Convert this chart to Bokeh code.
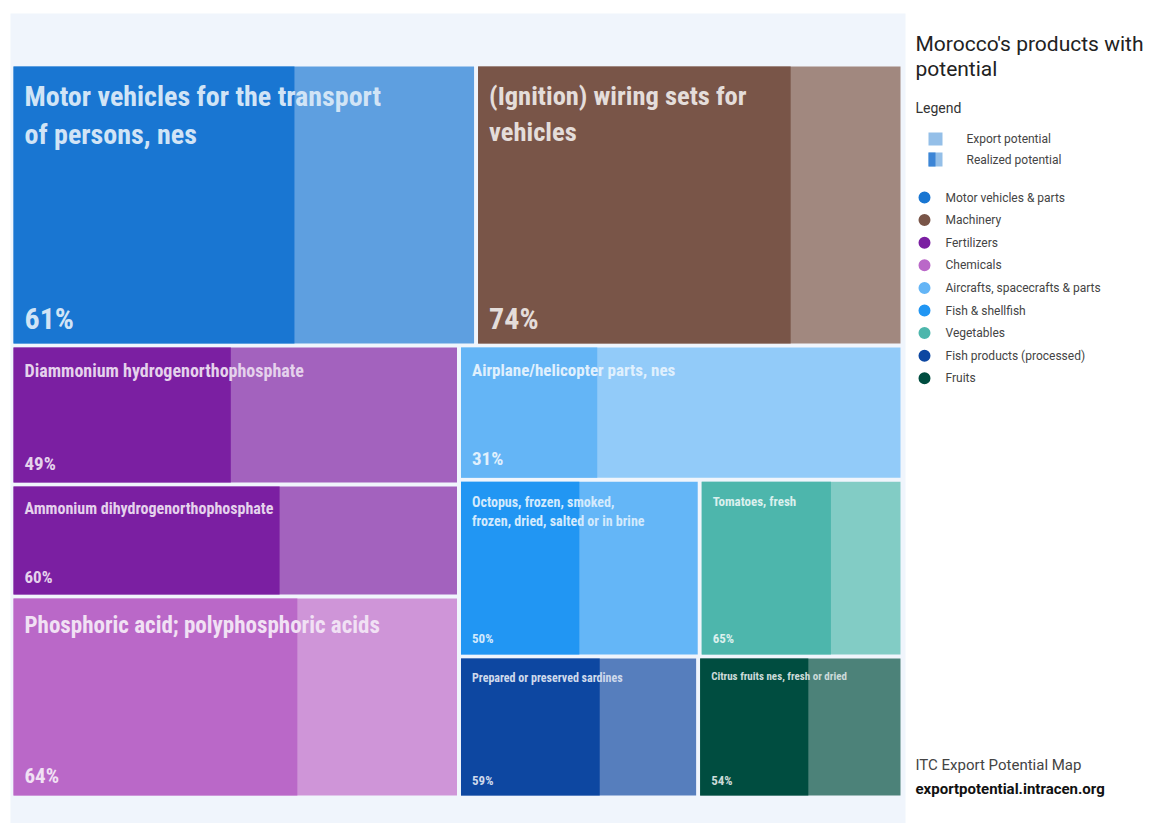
from bokeh.plotting import figure
from bokeh.models import Range1d, ColumnDataSource
from bokeh.core.properties import value
from bokeh.embed import file_html
from bokeh.resources import INLINE

# ---------------- data ----------------
products = [
    "Motor vehicles for the transport\nof persons, nes",
    "(Ignition) wiring sets for\nvehicles",
    "Diammonium hydrogenorthophosphate",
    "Ammonium dihydrogenorthophosphate",
    "Phosphoric acid; polyphosphoric acids",
    "Airplane/helicopter parts, nes",
    "Octopus, frozen, smoked,\nfrozen, dried, salted or in brine",
    "Tomatoes, fresh",
    "Prepared or preserved sardines",
    "Citrus fruits nes, fresh or dried",
]
product_sector = [
    "Motor vehicles & parts", "Machinery", "Fertilizers", "Fertilizers",
    "Chemicals", "Aircrafts, spacecrafts & parts", "Fish & shellfish",
    "Vegetables", "Fish products (processed)", "Fruits",
]
export_potential = [1304, 1197, 621, 501, 898, 594, 425, 358, 337, 288]
realized_pct = [61, 74, 49, 60, 64, 31, 50, 65, 59, 54]

legend_sectors = [
    "Motor vehicles & parts", "Machinery", "Fertilizers", "Chemicals",
    "Aircrafts, spacecrafts & parts", "Fish & shellfish", "Vegetables",
    "Fish products (processed)", "Fruits",
]
sector_colors = [
    "#1976d2", "#795548", "#7b1fa2", "#ba68c8", "#64b5f6",
    "#2196f3", "#4db6ac", "#0d47a1", "#004d40",
]

chart_title = ["Morocco's products with", "potential"]
legend_title = "Legend"
legend_kinds = ["Export potential", "Realized potential"]
footer = ["ITC Export Potential Map", "exportpotential.intracen.org"]

# ---------------- styles ----------------
TILE_FONT = "'Roboto Condensed', 'Liberation Sans Narrow', 'DejaVu Sans Condensed', Roboto, sans-serif"
UI_FONT = "Roboto"
title_size = [28, 26.5, 18, 16, 23, 17, 14, 13, 12, 11]
pct_size = [30, 30, 19, 17, 21, 19, 13, 13, 13, 13]

color_of = dict(zip(legend_sectors, sector_colors))


def blend(hexc, t):
    r, g, b = int(hexc[1:3], 16), int(hexc[3:5], 16), int(hexc[5:7], 16)
    r, g, b = (round(c + (255 - c) * t) for c in (r, g, b))
    return "#%02x%02x%02x" % (r, g, b)


def base_y(y, size):
    # compensate the renderer's baseline placement so that y is the text baseline
    return y - 0.32 * size


# treemap structure (slice and dice) -- leaves are product indices
structure = ("v", [("h", [0, 1]),
                   ("h", [("v", [2, 3, 4]),
                          ("v", [5, ("h", [6, 7]), ("h", [8, 9])])])])


def total(node):
    if isinstance(node, int):
        return export_potential[node]
    return sum(total(c) for c in node[1])


rects = {}


def layout(node, x0, y0, x1, y1):
    if isinstance(node, int):
        rects[node] = (x0, y0, x1, y1)
        return
    orient, children = node
    tot = total(node)
    pos = x0 if orient == "h" else y0
    for c in children:
        frac = total(c) / tot
        if orient == "h":
            step = (x1 - x0) * frac
            layout(c, pos, y0, pos + step, y1)
        else:
            step = (y1 - y0) * frac
            layout(c, x0, pos, x1, pos + step)
        pos += step


# screen coordinates (page pixels)
W, H = 1151, 823
layout(structure, 11, 64, 902, 797)
GAP = 2

p = figure(width=W, height=H, output_backend="svg", toolbar_location=None,
           x_range=Range1d(0, W), y_range=Range1d(H, 0),
           min_border=0, x_axis_location=None, y_axis_location=None)
p.grid.visible = False
p.outline_line_color = None
p.background_fill_color = "white"
p.border_fill_color = "white"

# light panel behind treemap
p.quad(left=10, right=905, top=13, bottom=H, color="#f0f5fc", line_color=None)

n = len(products)
L, R, T, B, Lr, Rr, light, dark = [], [], [], [], [], [], [], []
tx, ty, tt, ts, tc = [], [], [], [], []
for i in range(n):
    x0, y0, x1, y1 = rects[i]
    x0, y0, x1, y1 = x0 + GAP, y0 + GAP, x1 - GAP, y1 - GAP
    base = color_of[product_sector[i]]
    L.append(x0); R.append(x1); T.append(y0); B.append(y1)
    Lr.append(x0); Rr.append(x0 + (x1 - x0) * realized_pct[i] / 100.0)
    dark.append(base); light.append(blend(base, 0.3))
    txtc = blend(base, 0.8)
    fs = title_size[i]
    for k, line in enumerate(products[i].split("\n")):
        tx.append(x0 + 11); ty.append(base_y(y0 + 11 + fs + k * fs * 1.35, fs))
        tt.append(line); ts.append("%gpx" % fs); tc.append(txtc)
    ps = pct_size[i]
    tx.append(x0 + 11); ty.append(base_y(y1 - (8 + 0.25 * ps), ps))
    tt.append("%d%%" % realized_pct[i]); ts.append("%gpx" % ps); tc.append(txtc)

p.quad(left=L, right=R, top=T, bottom=B, color=light, line_color=None)
p.quad(left=Lr, right=Rr, top=T, bottom=B, color=dark, line_color=None)
src = ColumnDataSource(dict(x=tx, y=ty, text=tt, fs=ts, c=tc))
p.text(x="x", y="y", text="text", source=src, text_font=value(TILE_FONT),
       text_font_style="bold", text_font_size="fs", text_color="c",
       text_baseline="alphabetic", text_align="left")

# ---------------- legend ----------------
LX = 915
p.text(x=[LX, LX], y=[base_y(50, 21), base_y(75, 21)], text=chart_title,
       text_font=value(UI_FONT), text_font_size="21px", text_color="#222222",
       text_baseline="alphabetic")
p.text(x=[LX], y=[base_y(112, 14)], text=[legend_title], text_font=value(UI_FONT),
       text_font_size="14px", text_color="#333333", text_baseline="alphabetic")
sw_light, sw_dark = "#94bfe8", "#3c85d6"
p.quad(left=[928, 928], right=[942, 942], top=[132, 152],
       bottom=[145, 166], color=[sw_light, sw_light], line_color=None)
p.quad(left=[928], right=[935], top=[152], bottom=[166], color=sw_dark, line_color=None)
p.text(x=[966, 966], y=[base_y(142, 12), base_y(163, 12)], text=legend_kinds,
       text_font=value(UI_FONT), text_font_size="12px", text_color="#444444",
       text_baseline="alphabetic")

cy = [197 + k * 22.6 for k in range(len(legend_sectors))]
p.scatter(x=[924] * len(cy), y=cy, size=12, marker="circle", color=sector_colors,
          line_color=None)
p.text(x=[945] * len(cy), y=[base_y(c + 4, 12) for c in cy], text=legend_sectors,
       text_font=value(UI_FONT), text_font_size="12px", text_color="#444444",
       text_baseline="alphabetic")

p.text(x=[LX], y=[base_y(769, 15)], text=[footer[0]], text_font=value(UI_FONT),
       text_font_size="15px", text_color="#444444", text_baseline="alphabetic")
p.text(x=[LX], y=[base_y(793, 15)], text=[footer[1]], text_font=value(UI_FONT),
       text_font_size="15px", text_font_style="bold", text_color="#111111",
       text_baseline="alphabetic")

open("out.html", "w").write(file_html(p, INLINE))
